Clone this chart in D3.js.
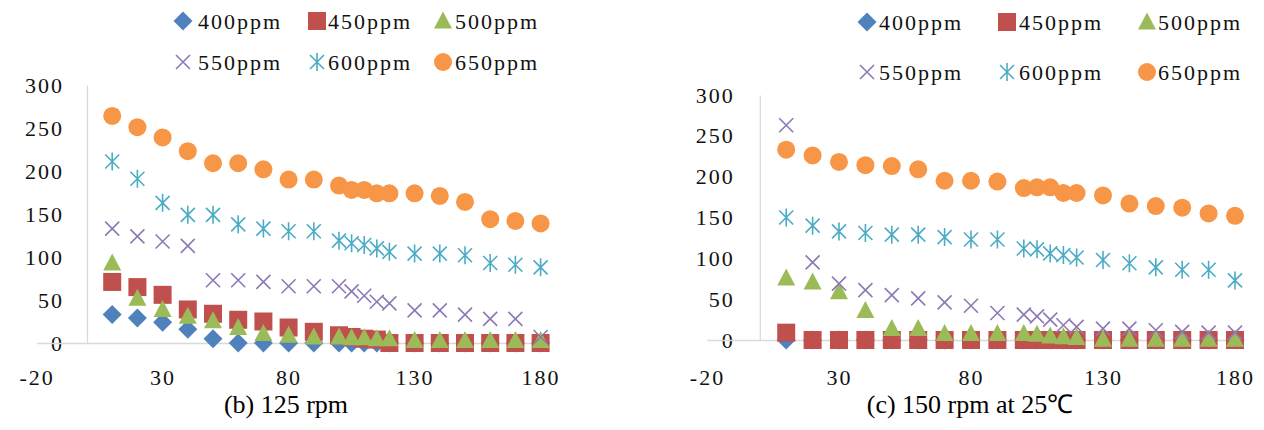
<!DOCTYPE html>
<html>
<head>
<meta charset="utf-8">
<script src="https://cdn.jsdelivr.net/npm/d3@7.8.5/dist/d3.min.js"></script>
<style>
  html, body { margin: 0; padding: 0; background: #fff; }
  svg { display: block; font-family: "Liberation Serif", "Times New Roman", serif; }
</style>
</head>
<body>
<svg id="chart" width="1264" height="430"></svg>
<script>
// time points (x) shared by both panels
const times = [10, 20, 30, 40, 50, 60, 70, 80, 90, 100, 105, 110, 115, 120, 130, 140, 150, 160, 170, 180];
const seriesNames = ["400ppm", "450ppm", "500ppm", "550ppm", "600ppm", "650ppm"];
const xTicks = [-20, 30, 80, 130, 180];
const yTicks = [0, 50, 100, 150, 200, 250, 300];
const captions = ["(b) 125 rpm", "(c) 150 rpm at 25\u2103"];

// (b) 125 rpm
const b400 = [33, 29, 24, 16, 5, 0, 0, 0, 0, 0, 0, 0, 0, 0, 0, 0, 0, 0, 0, 0];
const b450 = [71, 65, 56, 39, 34, 27, 25, 18, 13, 9, 7, 5, 4, 0, 0, 0, 0, 0, 0, 0];
const b500 = [93, 52, 39, 31, 26, 18, 11, 9, 7, 7, 6, 6, 5, 5, 3, 3, 3, 3, 3, 3];
const b550 = [133, 124, 118, 113, 73, 73, 71, 66, 66, 66, 60, 55, 48, 46, 38, 38, 33, 28, 28, 7];
const b600 = [211, 191, 163, 149, 149, 138, 133, 130, 130, 119, 116, 114, 110, 106, 104, 104, 102, 93, 91, 88];
const b650 = [264, 251, 239, 223, 209, 209, 202, 190, 190, 183, 178, 178, 174, 174, 174, 171, 164, 144, 142, 139];

// (c) 150 rpm at 25 C
const c400 = [0, 0, 0, 0, 0, 0, 0, 0, 0, 0, 0, 0, 0, 0, 0, 0, 0, 0, 0, 0];
const c450 = [9, 0, 0, 0, 0, 0, 0, 0, 0, 0, 0, 0, 0, 0, 0, 0, 0, 0, 0, 0];
const c500 = [76, 71, 59, 36, 14, 14, 8, 8, 8, 8, 7, 5, 4, 3, 1, 1, 1, 1, 1, 1];
const c550 = [263, 95, 69, 61, 55, 51, 46, 42, 33, 31, 29, 25, 18, 16, 14, 14, 12, 10, 9, 9];
const c600 = [150, 140, 133, 131, 129, 129, 126, 123, 123, 112, 111, 106, 104, 101, 98, 94, 89, 86, 86, 73];
const c650 = [233, 226, 218, 214, 213, 209, 195, 195, 194, 186, 187, 187, 180, 180, 177, 167, 164, 162, 155, 152];

const COLORS = ["#4f81bd", "#c0504d", "#9bbb59", "#8e79b4", "#4bacc6", "#f79646"];
const SHAPES = ["diamond", "square", "triangle", "cross", "star", "circle"];

const FONT = 22;
const GRID = "#d9d9d9";

// marker path centred on 0,0
function markerPath(type) {
  switch (type) {
    case "diamond": { const s = 9.5; return `M0,${-s}L${s},0L0,${s}L${-s},0Z`; }
    case "square": { const s = 9; return `M${-s},${-s}H${s}V${s}H${-s}Z`; }
    case "triangle": return "M0,-9.5L9,7.5L-9,7.5Z";
    case "cross": { const s = 7; return `M${-s},${-s}L${s},${s}M${-s},${s}L${s},${-s}`; }
    case "star": { const s = 7; return `M${-s},${-s}L${s},${s}M${-s},${s}L${s},${-s}M0,-9V9`; }
  }
}

function drawMarker(g, i, x, y) {
  const type = SHAPES[i];
  if (type === "circle") {
    return g.append("circle").attr("cx", x).attr("cy", y).attr("r", 9).attr("fill", COLORS[i]);
  }
  const p = g.append("path").attr("d", markerPath(type)).attr("transform", `translate(${x},${y})`);
  if (type === "cross" || type === "star") {
    p.attr("fill", "none").attr("stroke", COLORS[i]).attr("stroke-width", 1.6);
  } else {
    p.attr("fill", COLORS[i]);
  }
  return p;
}

const panels = [
  {
    series: [b400, b450, b500, b550, b600, b650],
    xRange: [36.6, 540.6], yRange: [343, 85],
    yPad: 23, xPad: 26,
    legendMarkX: [183, 317, 443], legendTextX: [198, 328, 455], legendY: [21, 62],
    caption: { x: 286, y: 413 }
  },
  {
    series: [c400, c450, c500, c550, c600, c650],
    xRange: [707, 1235], yRange: [340, 95],
    yPad: 25, xPad: 29,
    legendMarkX: [867, 1007, 1147], legendTextX: [879, 1019, 1158], legendY: [22, 72],
    caption: { x: 970, y: 413 }
  }
];

const svg = d3.select("#chart");
const plain = d => String(d); // hyphen minus, like the source

panels.forEach((pn, pi) => {
  const x = d3.scaleLinear().domain([-20, 180]).range(pn.xRange);
  const y = d3.scaleLinear().domain([0, 300]).range(pn.yRange);
  const g = svg.append("g");

  // y axis (line at x = 0)
  const ya = g.append("g")
    .attr("transform", `translate(${x(0)},0)`)
    .call(d3.axisLeft(y).tickValues(yTicks).tickFormat(plain).tickSize(0).tickSizeOuter(0).tickPadding(pn.yPad));

  // x axis (line at y = 0)
  const xa = g.append("g")
    .attr("transform", `translate(0,${y(0)})`)
    .call(d3.axisBottom(x).tickValues(xTicks).tickFormat(plain).tickSize(0).tickSizeOuter(0).tickPadding(pn.xPad));

  [ya, xa].forEach(a => {
    a.attr("font-family", null).attr("font-size", null);
    a.select(".domain").attr("stroke", GRID).attr("stroke-width", 1.3);
    a.selectAll("text")
      .style("font-size", FONT + "px")
      .style("letter-spacing", "2px")
      .attr("fill", "#111");
  });

  // points, in series order so later series sit on top
  pn.series.forEach((vals, si) => {
    const sg = g.append("g");
    vals.forEach((v, k) => drawMarker(sg, si, x(times[k]), y(v)));
  });

  // legend: two rows of three
  seriesNames.forEach((name, si) => {
    const row = Math.floor(si / 3), col = si % 3;
    const cy = pn.legendY[row];
    drawMarker(g, si, pn.legendMarkX[col], cy);
    g.append("text")
      .attr("x", pn.legendTextX[col])
      .attr("y", cy + 7.5)
      .style("font-size", FONT + "px")
      .style("letter-spacing", "2px")
      .attr("fill", "#111")
      .text(name);
  });

  g.append("text")
    .attr("x", pn.caption.x)
    .attr("y", pn.caption.y)
    .attr("text-anchor", "middle")
    .style("font-size", "26px")
    .attr("fill", "#000")
    .text(captions[pi]);
});
</script>
</body>
</html>
